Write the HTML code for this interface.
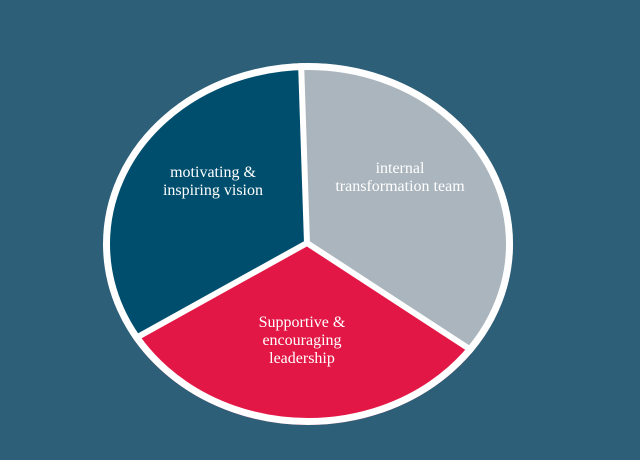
<!DOCTYPE html>
<html><head><meta charset="utf-8"><style>
html,body{margin:0;padding:0;background:#2d5f78;width:640px;height:460px;overflow:hidden}
svg{display:block;position:absolute;left:0;top:0}
text{font-family:"Liberation Serif",serif;font-size:16px;fill:#fff;text-anchor:middle}
</style></head><body>
<svg width="640" height="460" viewBox="0 0 640 460">
<defs><clipPath id="c"><ellipse cx="308" cy="244" rx="205" ry="181"/></clipPath></defs>
<g clip-path="url(#c)">
<polygon points="307,243 300.3,40 80,40 80,369" fill="#004e6e"/>
<polygon points="307,243 300.3,40 540,40 540,395" fill="#aab5bd"/>
<polygon points="307,243 80,369 80,440 540,440 540,395" fill="#e31745"/>
<g stroke="#fff" stroke-width="6">
<line x1="307" y1="243" x2="300.3" y2="40"/>
<line x1="307" y1="243" x2="80" y2="369"/>
<line x1="307" y1="243" x2="540" y2="395"/>
</g>
</g>
<ellipse cx="308" cy="244" rx="201.5" ry="177.5" fill="none" stroke="#fff" stroke-width="7"/>
<text x="213" y="177">motivating &amp;</text>
<text x="213" y="195">inspiring vision</text>
<text x="400" y="173">internal</text>
<text x="400" y="191">transformation team</text>
<text x="302" y="327">Supportive &amp;</text>
<text x="302" y="345">encouraging</text>
<text x="302" y="363">leadership</text>
</svg>
</body></html>
